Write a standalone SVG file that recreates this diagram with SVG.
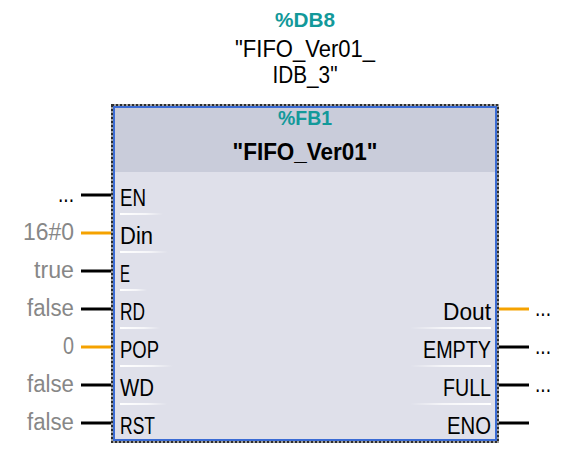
<svg xmlns="http://www.w3.org/2000/svg" width="574" height="475" viewBox="0 0 574 475">
<style>
text{font-family:"Liberation Sans",Arial,sans-serif;font-size:23px}
.lbl{fill:#000}
.val{fill:#878787}
.teal{fill:#13999a;font-weight:bold;font-size:21px}
.bold{font-weight:bold}
.w{stroke:#000;stroke-width:3}
.o{stroke:#f5a200;stroke-width:3}
.sepL{fill:url(#gL)}
.sepR{fill:url(#gR)}
</style>
<defs>
<linearGradient id="gL" x1="0" x2="1" y1="0" y2="0"><stop offset="0" stop-color="#fff"/><stop offset="0.6" stop-color="#fff" stop-opacity="0.7"/><stop offset="1" stop-color="#fff" stop-opacity="0"/></linearGradient>
<linearGradient id="gR" x1="1" x2="0" y1="0" y2="0"><stop offset="0" stop-color="#fff"/><stop offset="0.6" stop-color="#fff" stop-opacity="0.7"/><stop offset="1" stop-color="#fff" stop-opacity="0"/></linearGradient>
</defs>
<rect width="574" height="475" fill="#fff"/>
<g id="instance-db">
<text class="teal" x="305" y="27" text-anchor="middle" textLength="60" lengthAdjust="spacingAndGlyphs">%DB8</text>
<text class="lbl" x="305" y="57" text-anchor="middle" textLength="140" lengthAdjust="spacingAndGlyphs">"FIFO_Ver01_</text>
<text class="lbl" x="305" y="83" text-anchor="middle" textLength="65" lengthAdjust="spacingAndGlyphs">IDB_3"</text>
</g>
<g id="connectors">
<line class="w" x1="81" y1="195" x2="112" y2="195"/>
<line class="o" x1="81" y1="233" x2="112" y2="233"/>
<line class="w" x1="81" y1="271" x2="112" y2="271"/>
<line class="w" x1="81" y1="309" x2="112" y2="309"/>
<line class="o" x1="81" y1="347" x2="112" y2="347"/>
<line class="w" x1="81" y1="385" x2="112" y2="385"/>
<line class="w" x1="81" y1="423" x2="112" y2="423"/>
<line class="o" x1="498" y1="309" x2="529" y2="309"/>
<line class="w" x1="498" y1="347" x2="529" y2="347"/>
<line class="w" x1="498" y1="385" x2="529" y2="385"/>
<line class="w" x1="498" y1="423" x2="529" y2="423"/>
</g>
<g id="fb1">
<rect x="112" y="105" width="386" height="337" fill="none" stroke="#a0a0a0" stroke-width="2"/>
<rect x="112" y="105" width="386" height="337" fill="none" stroke="#2e2e2e" stroke-width="2" stroke-dasharray="2 2"/>
<rect x="114" y="107" width="382" height="333" fill="#dfe0ea" stroke="#3a6bd4" stroke-width="2"/>
<rect x="115" y="108" width="380" height="64" fill="#c9ccda"/>
<text class="teal" x="305" y="125" text-anchor="middle" textLength="54" lengthAdjust="spacingAndGlyphs">%FB1</text>
<text class="lbl bold" x="305" y="160" text-anchor="middle" textLength="145" lengthAdjust="spacingAndGlyphs">"FIFO_Ver01"</text>
<text class="lbl" x="120" y="206" textLength="26" lengthAdjust="spacingAndGlyphs">EN</text>
<text class="lbl" x="120" y="244" textLength="33" lengthAdjust="spacingAndGlyphs">Din</text>
<text class="lbl" x="120" y="282" textLength="10" lengthAdjust="spacingAndGlyphs">E</text>
<text class="lbl" x="120" y="320" textLength="25" lengthAdjust="spacingAndGlyphs">RD</text>
<text class="lbl" x="120" y="358" textLength="39" lengthAdjust="spacingAndGlyphs">POP</text>
<text class="lbl" x="120" y="396" textLength="34" lengthAdjust="spacingAndGlyphs">WD</text>
<text class="lbl" x="120" y="434" textLength="35" lengthAdjust="spacingAndGlyphs">RST</text>
<text class="lbl" x="491" y="320" text-anchor="end" textLength="48" lengthAdjust="spacingAndGlyphs">Dout</text>
<text class="lbl" x="491" y="358" text-anchor="end" textLength="68" lengthAdjust="spacingAndGlyphs">EMPTY</text>
<text class="lbl" x="491" y="396" text-anchor="end" textLength="48" lengthAdjust="spacingAndGlyphs">FULL</text>
<text class="lbl" x="491" y="434" text-anchor="end" textLength="44" lengthAdjust="spacingAndGlyphs">ENO</text>
<rect class="sepL" x="120" y="213" width="43" height="2"/>
<rect class="sepL" x="120" y="251" width="48" height="2"/>
<rect class="sepL" x="120" y="289" width="27" height="2"/>
<rect class="sepL" x="120" y="327" width="40" height="2"/>
<rect class="sepL" x="120" y="365" width="53" height="2"/>
<rect class="sepL" x="120" y="403" width="47" height="2"/>
<rect class="sepR" x="410" y="327" width="81" height="2"/>
<rect class="sepR" x="410" y="365" width="81" height="2"/>
<rect class="sepR" x="410" y="403" width="81" height="2"/>
</g>
<g id="values">
<text class="lbl" x="74" y="202" text-anchor="end" textLength="16" lengthAdjust="spacingAndGlyphs">...</text>
<text class="val" x="74" y="240" text-anchor="end" textLength="51" lengthAdjust="spacingAndGlyphs">16#0</text>
<text class="val" x="74" y="278" text-anchor="end" textLength="40" lengthAdjust="spacingAndGlyphs">true</text>
<text class="val" x="74" y="316" text-anchor="end" textLength="47" lengthAdjust="spacingAndGlyphs">false</text>
<text class="val" x="74" y="354" text-anchor="end" textLength="11" lengthAdjust="spacingAndGlyphs">0</text>
<text class="val" x="74" y="392" text-anchor="end" textLength="47" lengthAdjust="spacingAndGlyphs">false</text>
<text class="val" x="74" y="430" text-anchor="end" textLength="47" lengthAdjust="spacingAndGlyphs">false</text>
<text class="lbl" x="535" y="316" textLength="16" lengthAdjust="spacingAndGlyphs">...</text>
<text class="lbl" x="535" y="354" textLength="16" lengthAdjust="spacingAndGlyphs">...</text>
<text class="lbl" x="535" y="392" textLength="16" lengthAdjust="spacingAndGlyphs">...</text>
</g>
</svg>
